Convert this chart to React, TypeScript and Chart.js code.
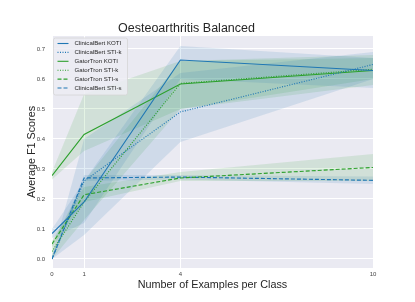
import React, { useEffect, useRef } from "react";
import { Chart, registerables } from "chart.js";

Chart.register(...registerables);

// ---- data ----
const xValues = [0, 1, 4, 10];
const xTicks = [0, 1, 4, 10];
const yTicks = [0, 0.1, 0.2, 0.3, 0.4, 0.5, 0.6, 0.7];

const seriesNames = [
  "ClinicalBert KOTI",
  "ClinicalBert STI-k",
  "GatorTron KOTI",
  "GatorTron STI-k",
  "GatorTron STI-s",
  "ClinicalBert STI-s",
];

const cbKoti = [0.085, 0.19, 0.663, 0.628];
const cbKotiLow = [0.07, 0.12, 0.6, 0.57];
const cbKotiHigh = [0.1, 0.26, 0.71, 0.67];

const cbStiK = [0.0, 0.26, 0.49, 0.648];
const cbStiKLow = [0.0, 0.08, 0.39, 0.6];
const cbStiKHigh = [0.01, 0.4, 0.62, 0.69];

const gtKoti = [0.278, 0.415, 0.583, 0.628];
const gtKotiLow = [0.265, 0.36, 0.5, 0.58];
const gtKotiHigh = [0.29, 0.55, 0.66, 0.68];

const gtStiK = [0.025, 0.19, 0.585, 0.632];
const gtStiKLow = [0.0, 0.13, 0.5, 0.6];
const gtStiKHigh = [0.05, 0.26, 0.66, 0.67];

const gtStiS = [0.05, 0.214, 0.27, 0.305];
const gtStiSLow = [0.04, 0.19, 0.26, 0.26];
const gtStiSHigh = [0.06, 0.24, 0.29, 0.35];

const cbStiS = [0.0, 0.27, 0.273, 0.262];
const cbStiSLow = [0.0, 0.26, 0.265, 0.25];
const cbStiSHigh = [0.01, 0.28, 0.28, 0.275];

// ---- styles ----
const BLUE = "#1f77b4";
const GREEN = "#2ca02c";
const BLUE_FILL = "rgba(31,119,180,0.13)";
const GREEN_FILL = "rgba(44,160,44,0.13)";
const DASH = [4, 2];
const DOT = [1, 1.5];
const FONT = "'Liberation Sans', Arial, sans-serif";

const lineStyles = [
  { color: BLUE, dash: [] as number[] },
  { color: BLUE, dash: DOT },
  { color: GREEN, dash: [] as number[] },
  { color: GREEN, dash: DOT },
  { color: GREEN, dash: DASH },
  { color: BLUE, dash: DASH },
];

const toPts = (arr: number[]) => arr.map((y, i) => ({ x: xValues[i], y }));

export default function App() {
  const ref = useRef<HTMLCanvasElement | null>(null);

  useEffect(() => {
    if (!ref.current) return;
    const means = [cbKoti, cbStiK, gtKoti, gtStiK, gtStiS, cbStiS];
    const lows = [cbKotiLow, cbStiKLow, gtKotiLow, gtStiKLow, gtStiSLow, cbStiSLow];
    const highs = [cbKotiHigh, cbStiKHigh, gtKotiHigh, gtStiKHigh, gtStiSHigh, cbStiSHigh];
    const fills = [BLUE_FILL, BLUE_FILL, GREEN_FILL, GREEN_FILL, GREEN_FILL, BLUE_FILL];

    const lineSets: any[] = means.map((m, i) => ({
      label: seriesNames[i],
      data: toPts(m),
      borderColor: lineStyles[i].color,
      borderDash: lineStyles[i].dash,
      borderWidth: 1.15,
      pointRadius: 0,
      fill: false,
      tension: 0,
    }));
    const bandSets: any[] = [];
    highs.forEach((h, i) => {
      bandSets.push({
        label: "band-hi-" + i,
        data: toPts(h),
        borderWidth: 0,
        pointRadius: 0,
        backgroundColor: fills[i],
        fill: "+1",
        tension: 0,
      });
      bandSets.push({
        label: "band-lo-" + i,
        data: toPts(lows[i]),
        borderWidth: 0,
        pointRadius: 0,
        fill: false,
        tension: 0,
      });
    });

    const bgPlugin = {
      id: "bg",
      beforeDraw(chart: any) {
        const { ctx, chartArea } = chart;
        ctx.save();
        ctx.fillStyle = "#EAEAF2";
        ctx.fillRect(chartArea.left, chartArea.top, chartArea.right - chartArea.left, chartArea.bottom - chartArea.top);
        ctx.restore();
      },
    };

    const legendPlugin = {
      id: "customLegend",
      afterDraw(chart: any) {
        const { ctx, chartArea } = chart;
        const x0 = chartArea.left + 1.5;
        const y0 = chartArea.top + 2;
        const w = 74;
        const h = 57;
        ctx.save();
        ctx.beginPath();
        const r = 2;
        ctx.moveTo(x0 + r, y0);
        ctx.lineTo(x0 + w - r, y0);
        ctx.quadraticCurveTo(x0 + w, y0, x0 + w, y0 + r);
        ctx.lineTo(x0 + w, y0 + h - r);
        ctx.quadraticCurveTo(x0 + w, y0 + h, x0 + w - r, y0 + h);
        ctx.lineTo(x0 + r, y0 + h);
        ctx.quadraticCurveTo(x0, y0 + h, x0, y0 + h - r);
        ctx.lineTo(x0, y0 + r);
        ctx.quadraticCurveTo(x0, y0, x0 + r, y0);
        ctx.closePath();
        ctx.fillStyle = "rgba(236,236,243,0.85)";
        ctx.fill();
        ctx.strokeStyle = "#d6d6d6";
        ctx.lineWidth = 0.8;
        ctx.stroke();
        ctx.font = "6.1px " + FONT;
        ctx.textBaseline = "middle";
        ctx.textAlign = "left";
        seriesNames.forEach((name, i) => {
          const yy = y0 + 5.5 + i * 8.9;
          ctx.beginPath();
          ctx.setLineDash(lineStyles[i].dash);
          ctx.strokeStyle = lineStyles[i].color;
          ctx.lineWidth = 1.1;
          ctx.moveTo(x0 + 4, yy);
          ctx.lineTo(x0 + 15, yy);
          ctx.stroke();
          ctx.setLineDash([]);
          ctx.fillStyle = "#262626";
          ctx.fillText(name, x0 + 21, yy);
        });
        ctx.restore();
      },
    };

    const chart = new Chart(ref.current, {
      type: "line",
      data: { datasets: [...lineSets, ...bandSets] },
      options: {
        animation: false,
        responsive: false,
        maintainAspectRatio: false,
        layout: { padding: { left: 0, right: 42, top: 0, bottom: 0 } },
        plugins: {
          legend: { display: false },
          tooltip: { enabled: false },
          title: {
            display: true,
            text: "Oesteoarthritis Balanced",
            color: "#262626",
            font: { family: FONT, size: 12.5, weight: "normal", lineHeight: 1 },
            padding: { top: 22.75, bottom: 0.75 },
          },
        },
        scales: {
          x: {
            type: "linear",
            min: 0,
            max: 10,
            afterBuildTicks: (s: any) => {
              s.ticks = xTicks.map((v) => ({ value: v }));
            },
            afterFit: (s: any) => {
              s.height = 34;
            },
            grid: { color: "#ffffff", lineWidth: 1, drawTicks: false },
            border: { display: false },
            ticks: {
              color: "#444444",
              font: { family: FONT, size: 6 },
              padding: 3,
              maxRotation: 0,
              callback: (v: any) => String(v),
            },
            title: {
              display: true,
              text: "Number of Examples per Class",
              color: "#262626",
              font: { family: FONT, size: 10.8, lineHeight: 1.2 },
              padding: { top: 0, bottom: 10.5 },
            },
          },
          y: {
            type: "linear",
            min: -0.03,
            max: 0.743,
            afterBuildTicks: (s: any) => {
              s.ticks = yTicks.map((v) => ({ value: v }));
            },
            afterFit: (s: any) => {
              s.width = 52;
            },
            grid: { color: "#ffffff", lineWidth: 1, drawTicks: false },
            border: { display: false },
            ticks: {
              color: "#444444",
              font: { family: FONT, size: 6 },
              padding: 7,
              callback: (v: any) => Number(v).toFixed(1),
            },
            title: {
              display: true,
              text: "Average F1 Scores",
              color: "#262626",
              font: { family: FONT, size: 10.8, lineHeight: 1.2 },
              padding: { top: 25.5, bottom: 0 },
            },
          },
        },
      } as any,
      plugins: [bgPlugin, legendPlugin],
    });
    return () => chart.destroy();
  }, []);

  return (
    <div style={{ position: "fixed", left: 0, top: 0, width: 415, height: 302, background: "#fff" }}>
      <canvas ref={ref} width={415} height={302} style={{ width: 415, height: 302, display: "block" }} />
    </div>
  );
}
